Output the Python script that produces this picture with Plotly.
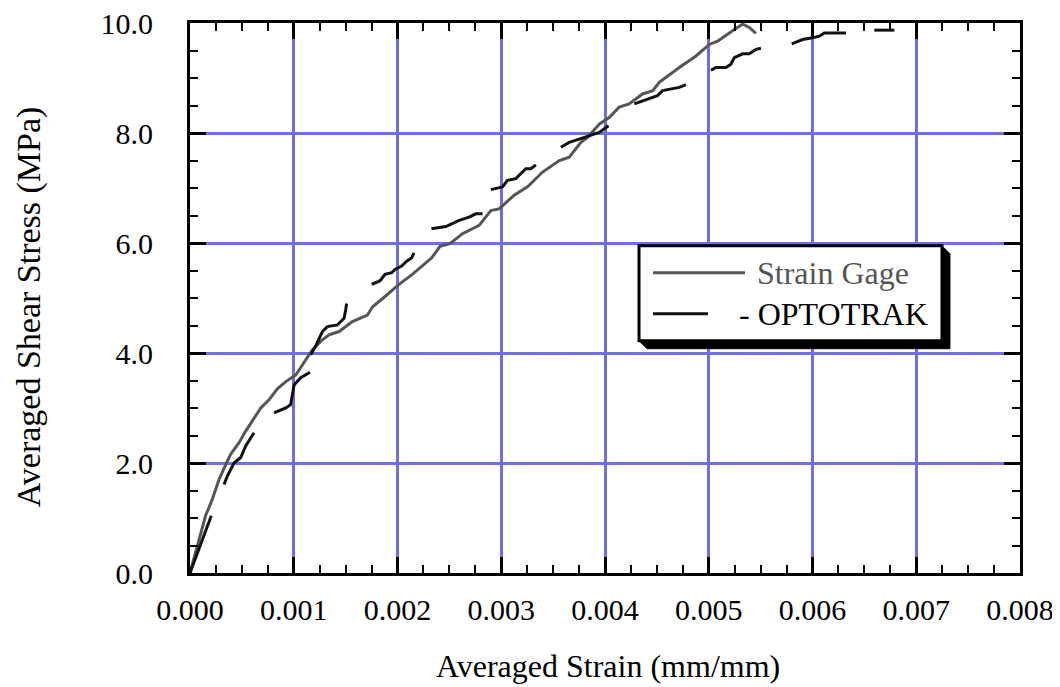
import plotly.graph_objects as go

# ---------------- data ----------------
gage_strain = [0.0, 0.00015, 0.000215, 0.00028, 0.000344, 0.000392, 0.000473, 0.000537,
               0.000682, 0.000762, 0.000842, 0.000923, 0.00102, 0.0011, 0.00118, 0.001276,
               0.00134, 0.001437, 0.001565, 0.00171, 0.00176, 0.001863, 0.002008, 0.002137,
               0.002233, 0.00233, 0.00241, 0.002506, 0.002626, 0.002787, 0.0029, 0.00298,
               0.003124, 0.003253, 0.003398, 0.00356, 0.003655, 0.003768, 0.003832, 0.003944,
               0.00404, 0.004137, 0.004233, 0.004362, 0.00446, 0.004523, 0.004716, 0.004877,
               0.005005, 0.005085, 0.00523, 0.005327, 0.00539, 0.005455]
gage_stress = [0.0, 1.04, 1.34, 1.70, 1.97, 2.16, 2.37, 2.58,
               3.00, 3.15, 3.35, 3.48, 3.60, 3.82, 4.06, 4.24,
               4.33, 4.39, 4.57, 4.69, 4.84, 5.00, 5.24, 5.42,
               5.57, 5.73, 5.94, 5.99, 6.17, 6.32, 6.59, 6.62,
               6.87, 7.02, 7.29, 7.50, 7.56, 7.83, 7.92, 8.16,
               8.28, 8.47, 8.53, 8.71, 8.77, 8.92, 9.19, 9.40,
               9.61, 9.67, 9.86, 9.98, 9.92, 9.81]

# OPTOTRAK: separate recorded segments, gaps marked with None
opto_strain = [0.0, 0.000205, None,
               0.000328, 0.00036, 0.000424, 0.000489, 0.000537, 0.000617, None,
               0.00081, 0.000923, 0.00097, 0.001003, 0.001067, 0.001157, None,
               0.001164, 0.00121, 0.001276, 0.001324, 0.00142, 0.001485, 0.0015, 0.00151, None,
               0.001751, 0.00183, 0.00188, 0.001944, 0.001976, 0.00204, 0.002089, 0.002137, 0.002159, None,
               0.002327, 0.002466, 0.002594, 0.00269, 0.002755, 0.00282, None,
               0.0029, 0.003012, 0.00306, 0.00314, 0.003237, 0.003285, 0.003334, None,
               0.003575, 0.003655, 0.003751, 0.003848, 0.003944, 0.004034, None,
               0.004282, 0.004426, 0.004506, 0.004555, 0.004652, 0.004716, 0.00478, None,
               0.005021, 0.00507, 0.005166, 0.005214, 0.005246, 0.005327, 0.00539, 0.005455, 0.005503, None,
               0.0058, 0.005905, 0.006, 0.006066, 0.006114, 0.006323, None,
               0.006596, 0.006789]
opto_stress = [0.0, 1.04, None,
               1.61, 1.76, 2.00, 2.10, 2.31, 2.55, None,
               2.91, 3.00, 3.06, 3.42, 3.55, 3.65, None,
               3.97, 4.12, 4.39, 4.48, 4.51, 4.63, 4.78, 4.90, None,
               5.25, 5.31, 5.43, 5.46, 5.52, 5.58, 5.67, 5.73, 5.82, None,
               6.26, 6.30, 6.41, 6.47, 6.53, 6.53, None,
               6.97, 7.02, 7.14, 7.17, 7.35, 7.35, 7.42, None,
               7.74, 7.83, 7.89, 7.95, 8.01, 8.13, None,
               8.53, 8.62, 8.68, 8.77, 8.80, 8.83, 8.88, None,
               9.14, 9.19, 9.19, 9.25, 9.37, 9.44, 9.44, 9.52, 9.54, None,
               9.62, 9.70, 9.73, 9.76, 9.82, 9.82, None,
               9.87, 9.87]

x_ticks = [0.000, 0.001, 0.002, 0.003, 0.004, 0.005, 0.006, 0.007, 0.008]
y_ticks = [0.0, 2.0, 4.0, 6.0, 8.0, 10.0]
series_names = ["Strain Gage", "- OPTOTRAK"]
x_title = "Averaged Strain (mm/mm)"
y_title = "Averaged Shear Stress (MPa)"

GAGE_COLOR = "#555555"
OPTO_COLOR = "#111111"
GRID_COLOR = "#6e6ee8"
FONT = "Liberation Serif, Times New Roman, serif"

fig = go.Figure()
fig.add_trace(go.Scatter(x=gage_strain, y=gage_stress, mode="lines",
                         line=dict(color=GAGE_COLOR, width=3), name=series_names[0],
                         showlegend=False))
fig.add_trace(go.Scatter(x=opto_strain, y=opto_stress, mode="lines",
                         line=dict(color=OPTO_COLOR, width=3), name=series_names[1],
                         connectgaps=False, showlegend=False))

axis_common = dict(
    showline=True, linecolor="black", linewidth=3, mirror="allticks",
    ticks="inside", ticklen=16, tickwidth=3, tickcolor="black",
    showgrid=True, gridcolor=GRID_COLOR, gridwidth=3, zeroline=False,
    tickfont=dict(family=FONT, size=30, color="black"),
    automargin=False, ticklabeloverflow="allow",
)

fig.update_xaxes(range=[0, 0.008], tickvals=x_ticks,
                 ticktext=[f"{v:.3f}" for v in x_ticks],
                 minor=dict(dtick=0.00025, ticks="inside", ticklen=8, tickwidth=2,
                            tickcolor="black", showgrid=False),
                 ticklabelstandoff=8,
                 **axis_common)
fig.update_yaxes(range=[0, 10], tickvals=y_ticks,
                 ticktext=[f"{v:.1f}" for v in y_ticks],
                 minor=dict(dtick=0.5, ticks="inside", ticklen=8, tickwidth=2,
                            tickcolor="black", showgrid=False),
                 ticklabelstandoff=28,
                 **axis_common)

# axis titles
fig.add_annotation(xref="paper", yref="paper", x=0.5036, y=-0.1698, xanchor="center",
                   yanchor="middle", text=x_title, showarrow=False,
                   font=dict(family=FONT, size=32, color="black"))
fig.add_annotation(xref="paper", yref="paper", x=-0.194, y=0.485, xanchor="center",
                   yanchor="middle", text=y_title, showarrow=False, textangle=-90,
                   font=dict(family=FONT, size=34, color="black"))

# ---------------- legend box (drawn in paper coordinates) ----------------
L, R, B, T = 0.541, 0.906, 0.4223, 0.5949
dx, dy = 0.0096, 0.0145
fig.add_shape(type="path", xref="paper", yref="paper",
              path=f"M {R},{T} L {R+dx},{T-dy} L {R+dx},{B-dy} L {L+dx},{B-dy} L {L},{B} Z",
              fillcolor="black", line=dict(color="black", width=1), layer="above")
fig.add_shape(type="rect", xref="paper", yref="paper", x0=L, x1=R, y0=B, y1=T,
              fillcolor="white", line=dict(color="black", width=3), layer="above")
fig.add_shape(type="line", xref="paper", yref="paper", x0=0.5578, x1=0.6687,
              y0=0.5459, y1=0.5459, line=dict(color=GAGE_COLOR, width=3), layer="above")
fig.add_shape(type="line", xref="paper", yref="paper", x0=0.5578, x1=0.6241,
              y0=0.4714, y1=0.4714, line=dict(color=OPTO_COLOR, width=3), layer="above")
fig.add_annotation(xref="paper", yref="paper", x=0.681, y=0.5459, xanchor="left",
                   yanchor="middle", text=series_names[0], showarrow=False,
                   font=dict(family=FONT, size=32, color=GAGE_COLOR))
fig.add_annotation(xref="paper", yref="paper", x=0.659, y=0.4714, xanchor="left",
                   yanchor="middle", text=series_names[1], showarrow=False,
                   font=dict(family=FONT, size=32, color="black"))

# The page body has an 8px default margin, so the figure is sized and its
# margins offset to keep the plot area where the reference has it.
fig.update_layout(
    width=1052, height=679,
    margin=dict(l=182, r=40, t=15, b=113.5, autoexpand=False),
    paper_bgcolor="white", plot_bgcolor="white",
    font=dict(family=FONT, color="black"),
    showlegend=False,
)

fig.write_html("out.html")
